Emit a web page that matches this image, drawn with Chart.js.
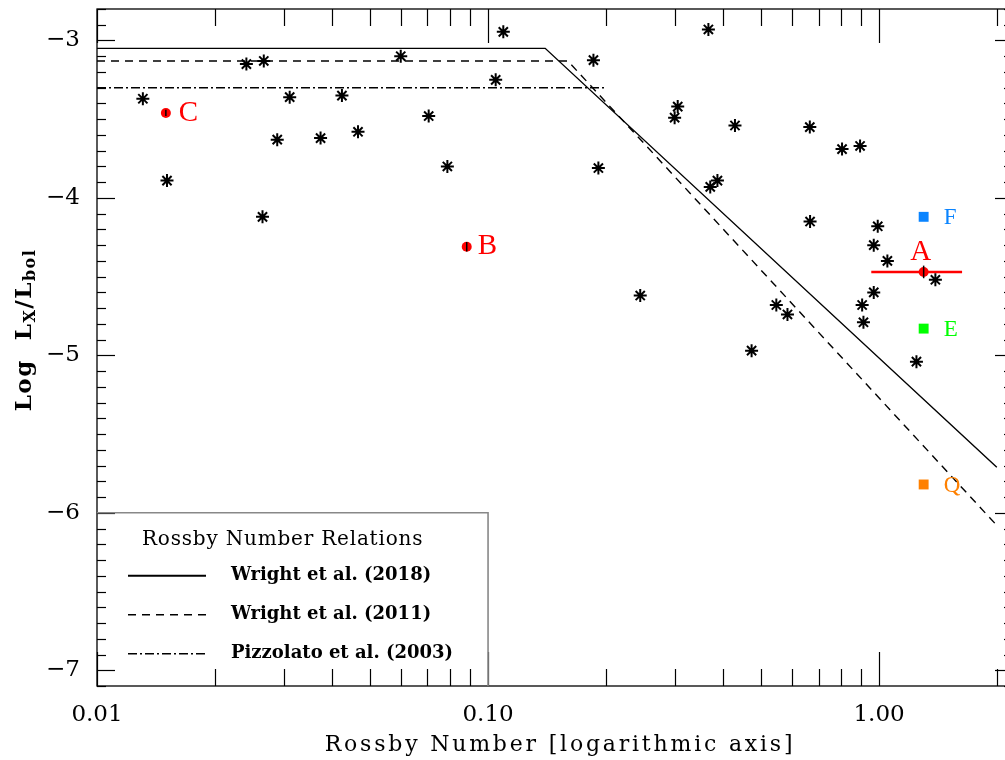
<!DOCTYPE html>
<html>
<head>
<meta charset="utf-8">
<title>Rossby number relations</title>
<script src="https://cdn.jsdelivr.net/npm/chart.js@4.4.1/dist/chart.umd.min.js"></script>
<style>
  html, body { margin: 0; padding: 0; background: #fff; overflow: hidden; }
  #wrap { width: 1025px; height: 760px; }
</style>
</head>
<body>
<div id="wrap"><canvas id="rossbyChart" width="1025" height="760"></canvas></div>
<script>
// sample stars (Rossby number, log Lx/Lbol)
const starRo = [0.0131, 0.0151, 0.0241, 0.0267, 0.0311, 0.0289, 0.0373, 0.0265, 0.0423, 0.0465,
  0.0598, 0.0705, 0.0787, 0.1046, 0.1094, 0.186, 0.1915, 0.245, 0.300, 0.3055,
  0.366, 0.370, 0.386, 0.428, 0.665, 0.666, 0.804, 0.894, 0.992, 0.969,
  1.05, 1.393, 0.969, 0.905, 0.912, 0.546, 0.583, 0.472, 1.246];
const starLx = [-3.37, -3.89, -3.15, -3.13, -3.36, -3.63, -3.62, -4.12, -3.35, -3.58,
  -3.10, -3.48, -3.80, -3.25, -2.945, -3.125, -3.81, -4.62, -3.49, -3.42,
  -2.93, -3.93, -3.89, -3.54, -3.55, -4.15, -3.69, -3.67, -4.18, -4.30,
  -4.40, -4.52, -4.60, -4.68, -4.79, -4.68, -4.74, -4.97, -5.04];

// highlighted targets
const redNames = ['A', 'B', 'C'];
const redRo = [1.30, 0.0882, 0.0150];
const redLx = [-4.47, -4.31, -3.46];
const redLxErr = [0.04, 0.03, 0.02];
const aRoRange = [0.955, 1.63];

const sqNames = ['F', 'E', 'Q'];
const sqRo = [1.30, 1.30, 1.30];
const sqLx = [-4.12, -4.83, -5.82];
const sqColors = ['#0a84ff', '#00ff00', '#ff8000'];

// Rossby number relations
const relNames = ['Wright et al. (2018)', 'Wright et al. (2011)', 'Pizzolato et al. (2003)'];
const wright18Ro = [0.01, 0.14, 2.0];
const wright18Lx = [-3.05, -3.05, -5.71];
const wright11Ro = [0.01, 0.16, 2.0];
const wright11Lx = [-3.13, -3.13, -6.08];
const pizzRo = [0.01, 0.2];
const pizzLx = [-3.3, -3.3];

// ticks
const xTickDecades = [0.01, 0.1, 1];
const xTickLabels = ['0.01', '0.10', '1.00'];
const yTickValues = [-7, -6, -5, -4, -3];
const yTickLabels = ['\u22127', '\u22126', '\u22125', '\u22124', '\u22123'];

const X_MIN = 0.01, X_MAX = 2.2;
const xTickValues = [];
xTickDecades.forEach(d => {
  for (let m = 1; m <= 9; m++) {
    const v = parseFloat((m * d).toPrecision(6));
    if (v <= X_MAX) xTickValues.push(v);
  }
});

const toPts = (xs, ys) => xs.map((v, i) => ({ x: v, y: ys[i] }));
const relDashes = [[], [8, 6], [9, 3, 2, 3]];

const datasets = [
  {
    label: 'stars', data: toPts(starRo, starLx), order: 1,
    pointStyle: 'star', pointRadius: 6.5, borderColor: '#000', borderWidth: 2
  },
  {
    label: 'squares', data: toPts(sqRo, sqLx), order: 1,
    pointStyle: 'rect', pointRadius: 7, borderWidth: 0,
    backgroundColor: sqColors, borderColor: sqColors
  },
  {
    label: 'marked', data: toPts(redRo, redLx), order: 3,
    pointStyle: 'circle', pointRadius: 5, backgroundColor: '#ff0000', borderColor: '#ff0000', borderWidth: 0
  },
  {
    label: 'A range', data: toPts(aRoRange, [redLx[0], redLx[0]]), order: 4,
    showLine: true, pointRadius: 0, borderColor: '#ff0000', borderWidth: 2.5
  }
];
redNames.forEach((n, i) => {
  datasets.push({
    label: n + ' err', data: toPts([redRo[i], redRo[i]], [redLx[i] - redLxErr[i], redLx[i] + redLxErr[i]]),
    order: 2, showLine: true, pointRadius: 0, borderColor: '#000', borderWidth: 1.5
  });
});
[[wright18Ro, wright18Lx], [wright11Ro, wright11Lx], [pizzRo, pizzLx]].forEach(([xs, ys], i) => {
  datasets.push({
    label: relNames[i], data: toPts(xs, ys), order: 5,
    showLine: true, pointRadius: 0, borderColor: '#000', borderWidth: 1.4,
    borderDash: relDashes[i]
  });
});

function isDecade(v) {
  const l = Math.log10(v);
  return Math.abs(l - Math.round(l)) < 1e-6;
}

// draws frame, inward ticks, legend box, target labels and axis titles
const frameAndLabels = {
  id: 'frameAndLabels',
  afterDatasetsDraw(chart) {
    const { ctx, chartArea: a, scales: { x, y } } = chart;
    const seg = (x1, y1, x2, y2) => { ctx.beginPath(); ctx.moveTo(x1, y1); ctx.lineTo(x2, y2); ctx.stroke(); };
    ctx.save();
    ctx.strokeStyle = '#000';
    ctx.lineWidth = 1.3;
    ctx.strokeRect(a.left, a.top, a.right - a.left, a.bottom - a.top);
    ctx.lineWidth = 1.2;
    x.ticks.forEach(t => {
      const px = Math.round(x.getPixelForValue(t.value)) + 0.5;
      const len = isDecade(t.value) ? 34 : 17;
      seg(px, a.bottom, px, a.bottom - len);
      seg(px, a.top, px, a.top + len);
    });
    y.ticks.forEach(t => {
      const py = Math.round(y.getPixelForValue(t.value)) + 0.5;
      const len = Math.abs(t.value - Math.round(t.value)) < 1e-6 ? 18 : 9;
      seg(a.left, py, a.left + len, py);
      seg(a.right, py, a.right - len, py);
    });

    // legend box
    const bl = x.getPixelForValue(0.01), br = x.getPixelForValue(0.1);
    const bt = y.getPixelForValue(-6), bb = a.bottom;
    ctx.strokeStyle = '#888';
    ctx.lineWidth = 1.6;
    ctx.beginPath();
    ctx.moveTo(bl, bt); ctx.lineTo(br, bt); ctx.lineTo(br, bb);
    ctx.stroke();
    ctx.fillStyle = '#000';
    ctx.textBaseline = 'middle';
    ctx.textAlign = 'left';
    ctx.font = '20px "DejaVu Serif"';
    ctx.letterSpacing = '0.8px';
    ctx.fillText('Rossby Number Relations', bl + 45, bt + 27);
    ctx.font = 'bold 18px "DejaVu Serif"';
    ctx.letterSpacing = '0px';
    ctx.strokeStyle = '#000';
    relNames.forEach((n, i) => {
      const ly = bt + 63 + i * 39;
      ctx.lineWidth = i === 0 ? 2 : 1.4;
      ctx.setLineDash(relDashes[i]);
      seg(bl + 31, ly, bl + 109, ly);
      ctx.setLineDash([]);
      ctx.fillText(n, bl + 134, ly);
    });

    // target labels
    const redOff = { A: [-3, -20, 'center'], B: [11, 0, 'left'], C: [13, 0, 'left'] };
    ctx.fillStyle = '#ff0000';
    ctx.font = '29px "Liberation Serif"';
    redNames.forEach((n, i) => {
      const o = redOff[n];
      ctx.textAlign = o[2];
      ctx.fillText(n, x.getPixelForValue(redRo[i]) + o[0], y.getPixelForValue(redLx[i]) + o[1]);
    });
    ctx.font = '23px "Liberation Serif"';
    ctx.textAlign = 'left';
    sqNames.forEach((n, i) => {
      ctx.fillStyle = sqColors[i];
      ctx.fillText(n, x.getPixelForValue(sqRo[i]) + 20, y.getPixelForValue(sqLx[i]) + 1);
    });

    // x title
    ctx.fillStyle = '#000';
    ctx.textAlign = 'center';
    ctx.font = '22px "DejaVu Serif"';
    ctx.letterSpacing = '2.8px';
    ctx.fillText('Rossby Number [logarithmic axis]', 560, 745);
    ctx.letterSpacing = '0px';

    // y title with subscripts
    const parts = [['Log  ', 0], ['L', 0], ['X', 1], ['/', 0], ['L', 0], ['bol', 1]];
    const bigF = 'bold 23px "DejaVu Serif"', smallF = 'bold 16px "DejaVu Serif"';
    ctx.letterSpacing = '1.5px';
    let total = 0;
    parts.forEach(p => { ctx.font = p[1] ? smallF : bigF; total += ctx.measureText(p[0]).width; });
    ctx.translate(25, 330);
    ctx.rotate(-Math.PI / 2);
    ctx.textAlign = 'left';
    let cx = -total / 2;
    parts.forEach(p => {
      ctx.font = p[1] ? smallF : bigF;
      ctx.fillText(p[0], cx, p[1] ? 6 : 0);
      cx += ctx.measureText(p[0]).width;
    });
    ctx.restore();
  }
};

new Chart(document.getElementById('rossbyChart'), {
  type: 'scatter',
  data: { datasets },
  options: {
    responsive: false,
    animation: false,
    layout: { padding: { top: 9, right: 12, left: 0, bottom: 0 } },
    plugins: { legend: { display: false }, tooltip: { enabled: false } },
    scales: {
      x: {
        type: 'logarithmic', min: X_MIN, max: X_MAX,
        afterBuildTicks: s => { s.ticks = xTickValues.map(v => ({ value: v })); },
        afterFit: s => { s.height = 74; s.paddingLeft = 0; s.paddingRight = 0; },
        grid: { display: false }, border: { display: false },
        ticks: {
          autoSkip: false, maxRotation: 0, padding: 7, color: '#000',
          font: { family: 'DejaVu Serif', size: 23 },
          callback: v => {
            const i = xTickDecades.findIndex(d => Math.abs(d - v) < 1e-9);
            return i >= 0 ? xTickLabels[i] : '';
          }
        }
      },
      y: {
        type: 'linear', min: -7.1, max: -2.8,
        afterFit: s => { s.width = 97; s.paddingTop = 0; s.paddingBottom = 0; },
        grid: { display: false }, border: { display: false },
        ticks: {
          stepSize: 0.1, autoSkip: false, padding: 9, color: '#000',
          font: { family: 'DejaVu Serif', size: 23 },
          callback: v => {
            const i = yTickValues.findIndex(t => Math.abs(t - v) < 1e-6);
            return i >= 0 ? yTickLabels[i] : '';
          }
        }
      }
    }
  },
  plugins: [frameAndLabels]
});
</script>
</body>
</html>
